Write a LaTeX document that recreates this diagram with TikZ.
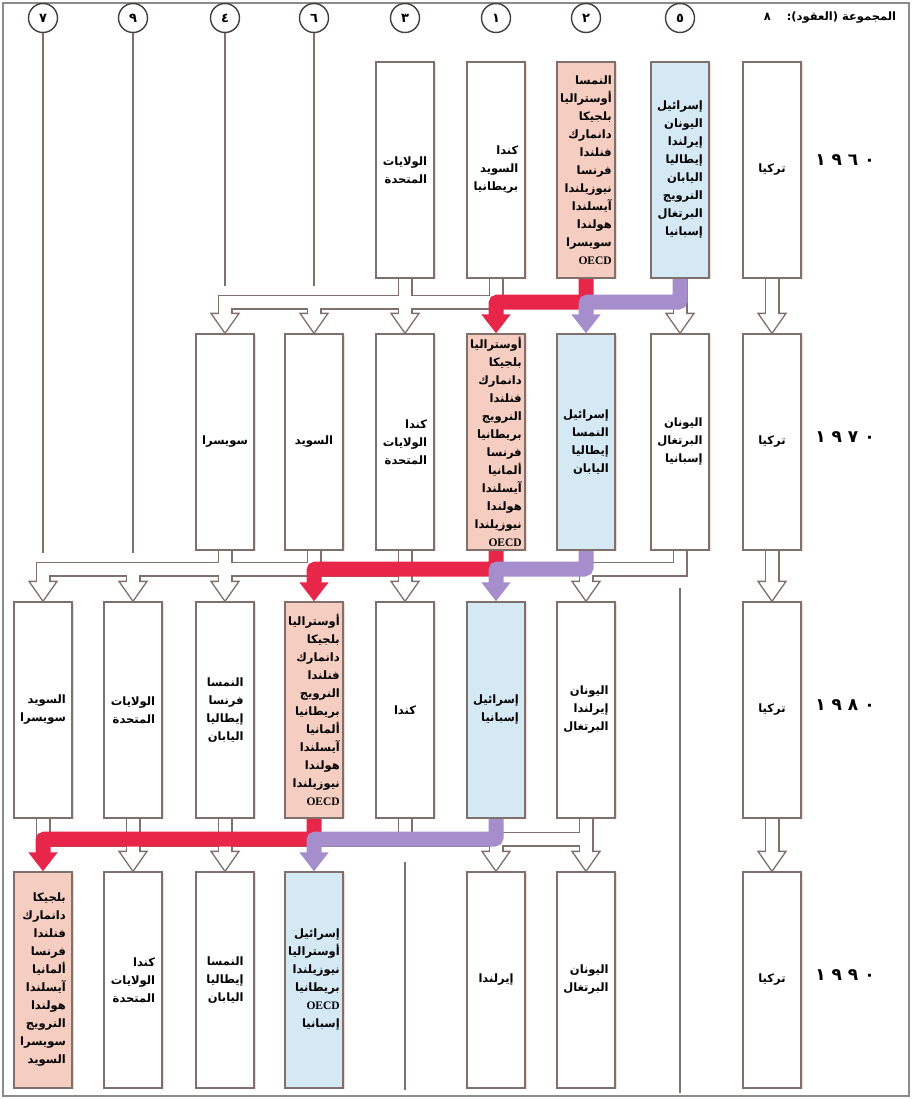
\documentclass[tikz,border=0pt]{standalone}
\usepackage{fontspec}
\usepackage{tikz}
\usetikzlibrary{calc,shadows,arrows.meta}
\TeXXeTstate=1
\newfontfamily\arabicfont[Script=Arabic]{DejaVu Sans}
\newfontfamily\oecdfont{Liberation Serif}
\definecolor{boxline}{RGB}{128,112,108}
\definecolor{ringline}{RGB}{70,62,60}
\definecolor{corefill}{RGB}{245,206,193}
\definecolor{outerfill}{RGB}{212,233,243}
\definecolor{shadowtone}{RGB}{215,170,160}
\definecolor{bandred}{RGB}{232,38,74}
\definecolor{bandlilac}{RGB}{166,142,204}
\definecolor{framegray}{RGB}{140,140,140}
\pgfdeclarelayer{background}
\pgfsetlayers{background,main}
\newcommand{\rl}[1]{\beginR #1\endR}
\newcommand{\oecd}{{\oecdfont\bfseries OECD}}
\newcommand{\headtop}[1]{($(#1.north)+(0,-20)$)}
\newcommand{\hollowhead}[1]{%
  \filldraw[headtip] ($(#1.north)+(-14,-20)$) -- ($(#1.north)+(14,-20)$) -- (#1.north) -- cycle;
  \draw[pipein,line width=3pt] ($(#1.north)+(-6,-20)$) -- ($(#1.north)+(6,-20)$);}

\begin{document}
\begin{tikzpicture}[x=1pt,y=-1pt,
    country/.style={draw=boxline,line width=1.3pt,fill=white,minimum width=58pt,minimum height=216pt,
                    inner sep=1pt,align=right,font=\arabicfont\bfseries\fontsize{11.5}{18}\selectfont,
                    drop shadow={shadow xshift=1.5pt,shadow yshift=-1pt,opacity=.4,fill=shadowtone}},
    corebox/.style={country,fill=corefill},
    outerbox/.style={country,fill=outerfill},
    groupring/.style={circle,draw=ringline,line width=1.4pt,minimum size=29pt,inner sep=0pt,fill=white,
                      font=\arabicfont\bfseries\fontsize{13}{13}\selectfont},
    decade/.style={font=\arabicfont\bfseries\fontsize{17}{17}\selectfont},
    guide/.style={draw=boxline,line width=1.2pt},
    pipeout/.style={draw=boxline,line width=15pt},
    pipein/.style={draw=white,line width=12pt},
    headtip/.style={fill=white,draw=boxline,line width=1.3pt,line join=miter},
    redband/.style={draw=bandred,line width=15pt,rounded corners=2pt,-{Triangle[width=28pt,length=19pt]}},
    lilacband/.style={draw=bandlilac,line width=15pt,rounded corners=2pt,-{Triangle[width=28pt,length=19pt]}}]
\useasboundingbox (0,0) rectangle (912,1099);
\draw[framegray,line width=1.5pt] (3,3) rectangle (909,1096);
%
\node[groupring] (n7) at (43,18)  {٧};
\node[groupring] (n9) at (133,18) {٩};
\node[groupring] (n4) at (225,18) {٤};
\node[groupring] (n6) at (314,18) {٦};
\node[groupring] (n3) at (405,18) {٣};
\node[groupring] (n1) at (496,18) {١};
\node[groupring] (n2) at (586,18) {٢};
\node[groupring] (n5) at (680,18) {٥};
\node[font=\arabicfont\bfseries\fontsize{11.5}{11.5}\selectfont] (title) at (830,18)
  {\rl{المجموعة (العقود):\hspace{16pt}٨}};
%
\node[decade] (y60) at (845,160) {١\hspace{6pt}٩\hspace{6pt}٦\hspace{6pt}٠};
\node[decade] (y70) at (845,437) {١\hspace{6pt}٩\hspace{6pt}٧\hspace{6pt}٠};
\node[decade] (y80) at (845,705) {١\hspace{6pt}٩\hspace{6pt}٨\hspace{6pt}٠};
\node[decade] (y90) at (845,975) {١\hspace{6pt}٩\hspace{6pt}٩\hspace{6pt}٠};
%
% 1960
\node[country]  (a3) at (405,170) {\rl{الولايات}\\\rl{المتحدة}};
\node[country]  (a1) at (496,170) {\rl{كندا}\\\rl{السويد}\\\rl{بريطانيا}};
\node[corebox]  (a2) at (586,170) {\rl{النمسا}\\\rl{أوستراليا}\\\rl{بلجيكا}\\\rl{دانمارك}\\\rl{فنلندا}\\\rl{فرنسا}\\\rl{نيوزيلندا}\\\rl{آيسلندا}\\\rl{هولندا}\\\rl{سويسرا}\\\oecd};
\node[outerbox] (a5) at (680,170) {\rl{إسرائيل}\\\rl{اليونان}\\\rl{إيرلندا}\\\rl{إيطاليا}\\\rl{اليابان}\\\rl{النرويج}\\\rl{البرتغال}\\\rl{إسبانيا}};
\node[country]  (aT) at (772,170) {\rl{تركيا}};
% 1970
\node[country]  (b4) at (225,442) {\rl{سويسرا}};
\node[country]  (b6) at (314,442) {\rl{السويد}};
\node[country]  (b3) at (405,442) {\rl{كندا}\\\rl{الولايات}\\\rl{المتحدة}};
\node[corebox]  (b1) at (496,442) {\rl{أوستراليا}\\\rl{بلجيكا}\\\rl{دانمارك}\\\rl{فنلندا}\\\rl{النرويج}\\\rl{بريطانيا}\\\rl{فرنسا}\\\rl{ألمانيا}\\\rl{آيسلندا}\\\rl{هولندا}\\\rl{نيوزيلندا}\\\oecd};
\node[outerbox] (b2) at (586,442) {\rl{إسرائيل}\\\rl{النمسا}\\\rl{إيطاليا}\\\rl{اليابان}};
\node[country]  (b5) at (680,442) {\rl{اليونان}\\\rl{البرتغال}\\\rl{إسبانيا}};
\node[country]  (bT) at (772,442) {\rl{تركيا}};
% 1980
\node[country]  (c7) at (43,710)  {\rl{السويد}\\\rl{سويسرا}};
\node[country]  (c9) at (133,710) {\rl{الولايات}\\\rl{المتحدة}};
\node[country]  (c4) at (225,710) {\rl{النمسا}\\\rl{فرنسا}\\\rl{إيطاليا}\\\rl{اليابان}};
\node[corebox]  (c6) at (314,710) {\rl{أوستراليا}\\\rl{بلجيكا}\\\rl{دانمارك}\\\rl{فنلندا}\\\rl{النرويج}\\\rl{بريطانيا}\\\rl{ألمانيا}\\\rl{آيسلندا}\\\rl{هولندا}\\\rl{نيوزيلندا}\\\oecd};
\node[country]  (c3) at (405,710) {\rl{كندا}};
\node[outerbox] (c1) at (496,710) {\rl{إسرائيل}\\\rl{إسبانيا}};
\node[country]  (c2) at (586,710) {\rl{اليونان}\\\rl{إيرلندا}\\\rl{البرتغال}};
\node[country]  (cT) at (772,710) {\rl{تركيا}};
% 1990
\node[corebox]  (d7) at (43,980)  {\rl{بلجيكا}\\\rl{دانمارك}\\\rl{فنلندا}\\\rl{فرنسا}\\\rl{ألمانيا}\\\rl{آيسلندا}\\\rl{هولندا}\\\rl{النرويج}\\\rl{سويسرا}\\\rl{السويد}};
\node[country]  (d9) at (133,980) {\rl{كندا}\\\rl{الولايات}\\\rl{المتحدة}};
\node[country]  (d4) at (225,980) {\rl{النمسا}\\\rl{إيطاليا}\\\rl{اليابان}};
\node[outerbox] (d6) at (314,980) {\rl{إسرائيل}\\\rl{أوستراليا}\\\rl{نيوزيلندا}\\\rl{بريطانيا}\\\oecd\\\rl{إسبانيا}};
\node[country]  (d1) at (496,980) {\rl{إيرلندا}};
\node[country]  (d2) at (586,980) {\rl{اليونان}\\\rl{البرتغال}};
\node[country]  (dT) at (772,980) {\rl{تركيا}};
%
\coordinate (bus60) at (0,302);
\coordinate (bus70) at (0,569);
\coordinate (bus80) at (0,839);
\coordinate (e7) at (43,553);
\coordinate (e9) at (133,553);
\coordinate (e4) at (225,286);
\coordinate (e6) at (314,286);
\coordinate (g5a) at (680,588);
\coordinate (g5b) at (680,1093);
\coordinate (g3a) at (405,862);
\coordinate (g3b) at (405,1090);
%
\newcommand{\hollowpipes}{
  (a1.south) |- (b4.north |- bus60) -- \headtop{b4}
  (a3.south) -- (a3.south |- bus60)
  (b6.north |- bus60) -- \headtop{b6}
  (b3.north |- bus60) -- \headtop{b3}
  (a5.south) -- \headtop{b5}
  (aT.south) -- \headtop{bT}
  (b3.south) -- \headtop{c3}
  (c3.north |- bus70) -| \headtop{c7}
  (b4.south) -- \headtop{c4}
  (b6.south) -- (b6.south |- bus70)
  (c9.north |- bus70) -- \headtop{c9}
  (b5.south) |- (c2.north |- bus70) -- \headtop{c2}
  (bT.south) -- \headtop{cT}
  (c7.south) |- (c2.south |- bus80)
  (c2.south) -- \headtop{d2}
  (c3.south) -- (c3.south |- bus80)
  (d1.north |- bus80) -- \headtop{d1}
  (c9.south) -- \headtop{d9}
  (c4.south) -- \headtop{d4}
  (cT.south) -- \headtop{dT}
}
\begin{pgfonlayer}{background}
\draw[guide] (n7) -- (e7);
\draw[guide] (n9) -- (e9);
\draw[guide] (n4) -- (e4);
\draw[guide] (n6) -- (e6);
\draw[guide] (g5a) -- (g5b);
\draw[guide] (g3a) -- (g3b);
%
\draw[pipeout] \hollowpipes;
\draw[pipein] \hollowpipes;
\foreach \t in {b4,b6,b3,b5,bT,c7,c9,c4,c3,c2,cT,d9,d4,d1,d2,dT}
  {\hollowhead{\t}}
%
\draw[redband]   (a2.south) |- (b1.north |- bus60) -- (b1.north);
\draw[lilacband] (a5.south) |- (b2.north |- bus60) -- (b2.north);
\draw[redband]   (b1.south) |- (c6.north |- bus70) -- (c6.north);
\draw[lilacband] (b2.south) |- (c1.north |- bus70) -- (c1.north);
\draw[redband]   (c6.south) |- (d7.north |- bus80) -- (d7.north);
\draw[lilacband] (c1.south) |- (d6.north |- bus80) -- (d6.north);
\end{pgfonlayer}
\end{tikzpicture}
\end{document}
